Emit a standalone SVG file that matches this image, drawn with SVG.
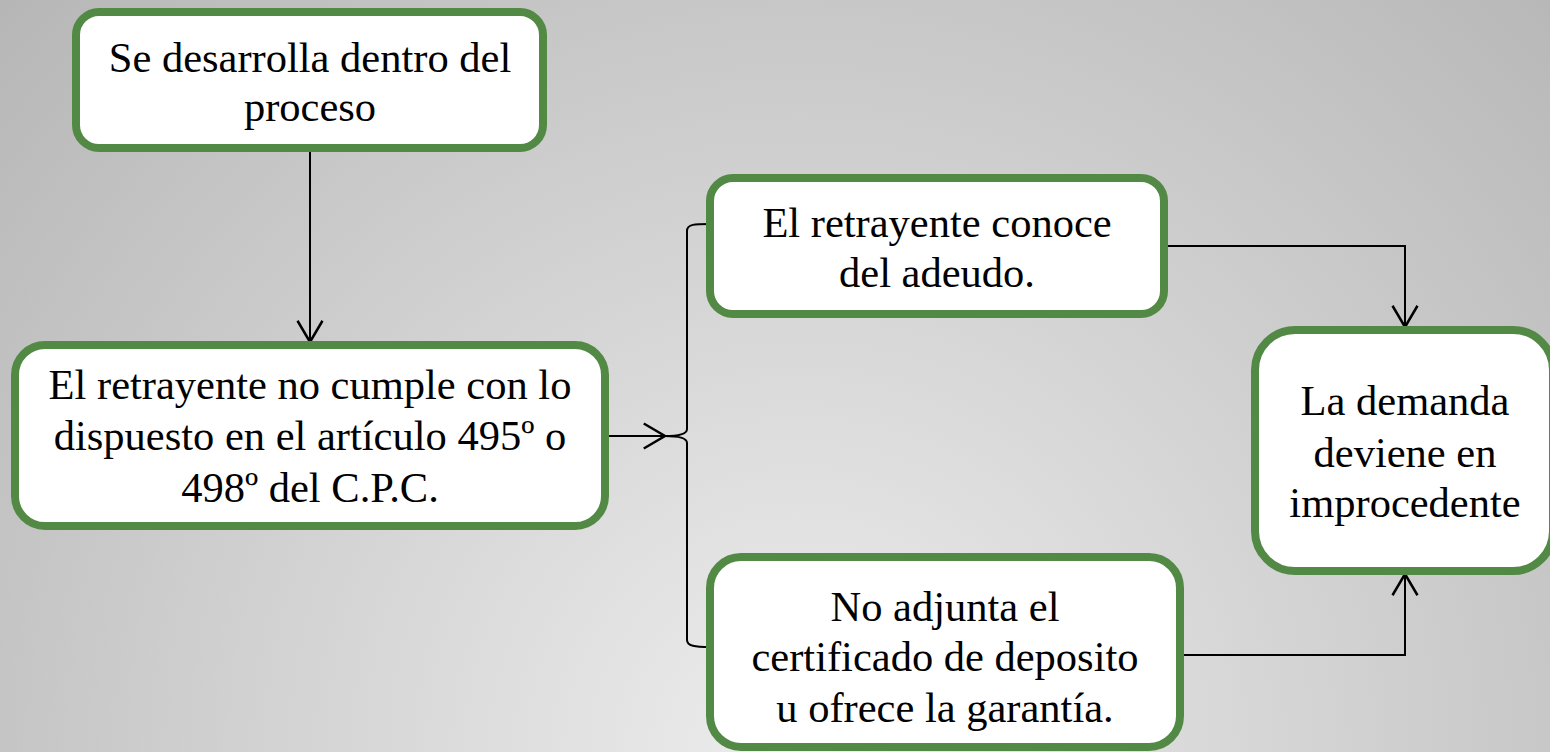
<svg xmlns="http://www.w3.org/2000/svg" width="1550" height="752" viewBox="0 0 1550 752">
<defs>
<radialGradient id="bg" gradientUnits="userSpaceOnUse" cx="800" cy="752" r="1100">
<stop offset="0" stop-color="#ededed"/>
<stop offset="1" stop-color="#b6b6b6"/>
</radialGradient>
<marker id="arr" markerUnits="userSpaceOnUse" markerWidth="30" markerHeight="30" viewBox="-20 -12 24 24" refX="0" refY="0" orient="auto">
<path d="M -17 -10 L 0 0 L -17 10" fill="none" stroke="#000" stroke-width="2"/>
</marker>
<style>
.box{fill:#fff;stroke:#528944;stroke-width:8}
.t{font-family:"Liberation Serif","Times New Roman",serif;font-size:42.5px;fill:#000;text-anchor:middle}
.c{fill:none;stroke:#000;stroke-width:2}
</style>
</defs>
<rect x="0" y="0" width="1550" height="752" fill="url(#bg)"/>
<g id="connectors">
<path class="c" d="M 310 148 L 310 342" marker-end="url(#arr)"/>
<path class="c" d="M 605 436 L 665 436" marker-end="url(#arr)"/>
<path class="c" d="M 710 224 C 695 224 687 224 687 231 L 687 429 C 687 434 680 436 665 436 C 680 436 687 438 687 443 L 687 640 C 687 646 695 647 710 647"/>
<path class="c" d="M 1168 246 L 1405 246 L 1405 327" marker-end="url(#arr)"/>
<path class="c" d="M 1184 655 L 1405 655 L 1405 574" marker-end="url(#arr)"/>
</g>
<g id="node1">
<rect class="box" x="76" y="12" width="467" height="136" rx="23"/>
<text class="t" x="310" y="72">Se desarrolla dentro del</text>
<text class="t" x="310" y="121">proceso</text>
</g>
<g id="node2">
<rect class="box" x="15" y="345" width="590" height="181" rx="30"/>
<text class="t" x="310" y="399">El retrayente no cumple con lo</text>
<text class="t" x="310" y="450">dispuesto en el artículo 495º o</text>
<text class="t" x="310" y="502">498º del C.P.C.</text>
</g>
<g id="node3">
<rect class="box" x="710" y="178" width="454" height="136" rx="23"/>
<text class="t" x="937" y="237">El retrayente conoce</text>
<text class="t" x="937" y="287">del adeudo.</text>
</g>
<g id="node4">
<rect class="box" x="710" y="557" width="470" height="190" rx="31"/>
<text class="t" x="945" y="621">No adjunta el</text>
<text class="t" x="945" y="671">certificado de deposito</text>
<text class="t" x="945" y="722">u ofrece la garantía.</text>
</g>
<g id="node5">
<rect class="box" x="1255" y="330" width="298" height="241" rx="40"/>
<text class="t" x="1405" y="415">La demanda</text>
<text class="t" x="1405" y="467">deviene en</text>
<text class="t" x="1405" y="517">improcedente</text>
</g>
</svg>
